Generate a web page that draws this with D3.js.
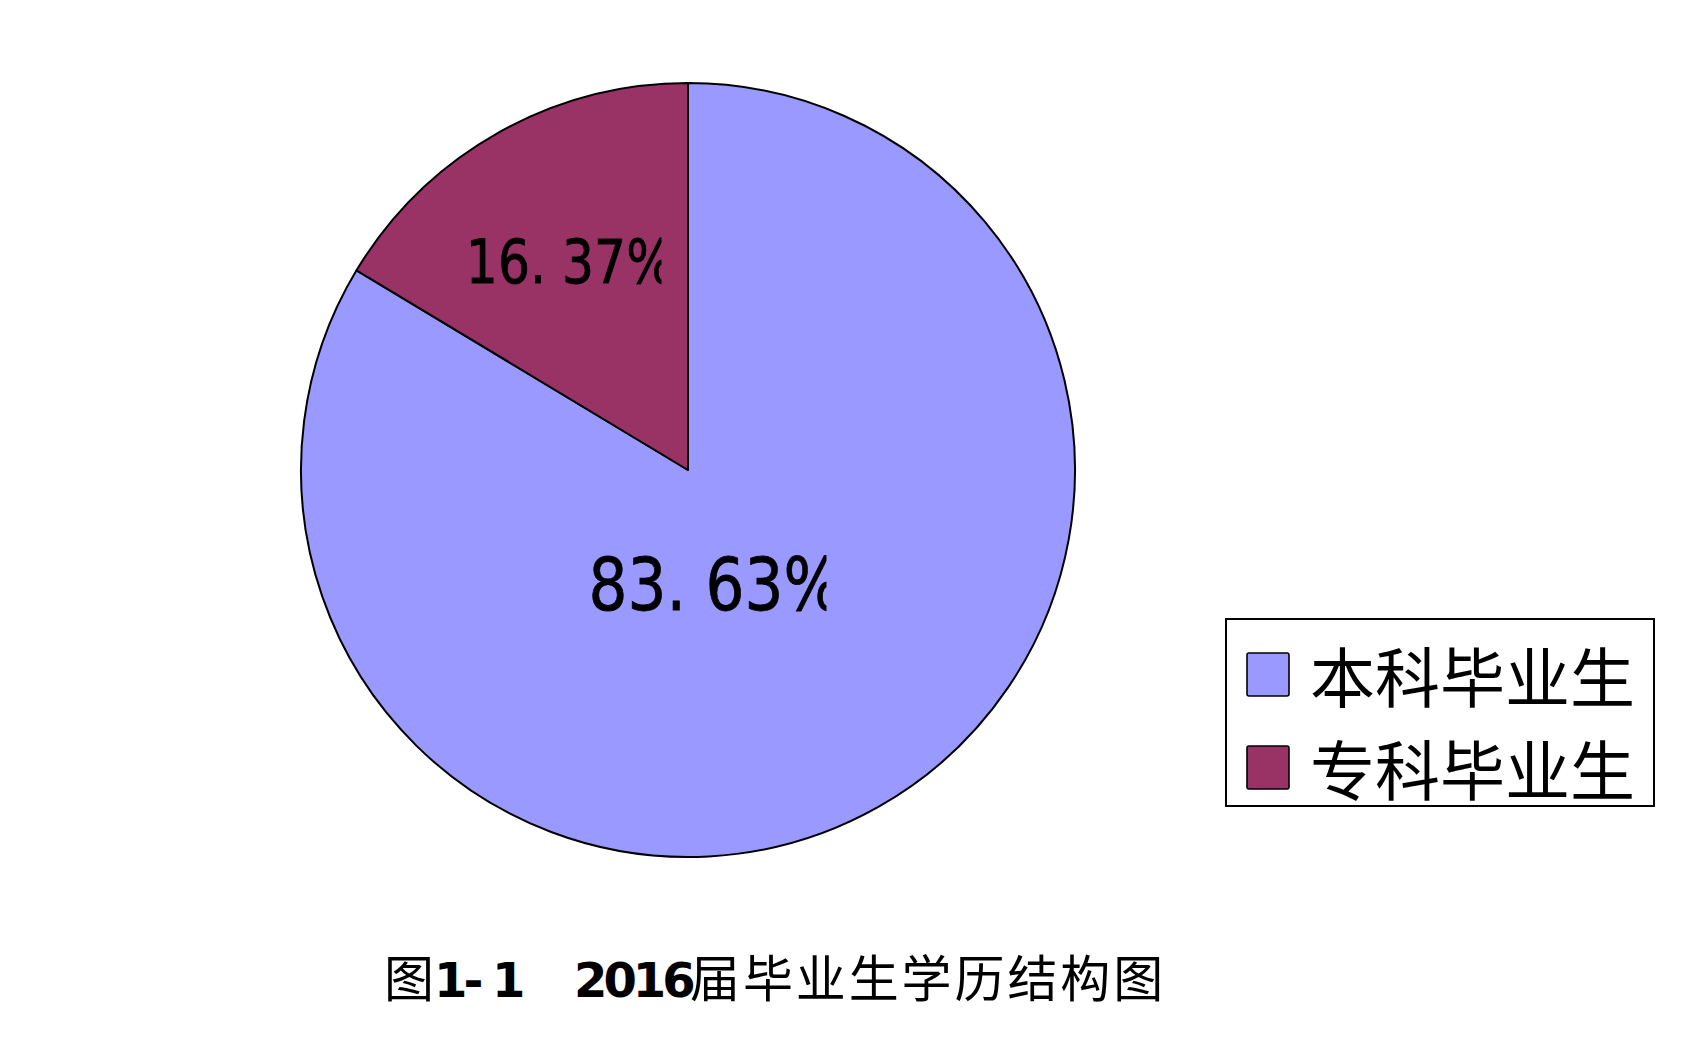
<!DOCTYPE html>
<html>
<head>
<meta charset="utf-8">
<script src="https://cdn.jsdelivr.net/npm/d3@7/dist/d3.min.js"></script>
<style>
  html, body { margin: 0; padding: 0; background: #fff; }
  svg { display: block; }
</style>
</head>
<body>
<svg id="chart" width="1683" height="1046"></svg>
<script>
// ---- data ----
const categories = ["本科毕业生", "专科毕业生"];
const values = [83.63, 16.37];
const valueLabels = ["83. 63%", "16. 37%"];
const colors = ["#9999FF", "#993366"];
const titleParts = ["图", "1- 1", "2016", "届毕业生学历结构图"];

// ---- layout ----
const W = 1683, H = 1046;
const cx = 688, cy = 470, R = 387;
const labelRadiusFactor = [0.30, 0.62];
const labelShift = [[-30, 12], [0, 0]];
const labelFont = [73, 60];
const labelScaleX = 0.84;

const svg = d3.select("#chart");
const defs = svg.append("defs");

const pie = d3.pie().sort(null).value(d => d);
const arcs = pie(values);
const arc = d3.arc().innerRadius(0).outerRadius(R);

const g = svg.append("g").attr("transform", `translate(${cx},${cy})`);

g.selectAll("path.slice")
  .data(arcs)
  .join("path")
  .attr("class", "slice")
  .attr("d", arc)
  .attr("fill", (d, i) => colors[i])
  .attr("stroke", "#000")
  .attr("stroke-width", 2)
  .attr("stroke-linejoin", "round");

// labels (clipped on the right like the original text boxes)
arcs.forEach((d, i) => {
  const fs = labelFont[i];
  const la = d3.arc().innerRadius(0).outerRadius(2 * R * labelRadiusFactor[i]);
  const [px, py] = la.centroid(d);
  const lx = cx + px + labelShift[i][0];
  const ly = cy + py + labelShift[i][1];

  const outer = svg.append("g");
  const inner = outer.append("g");
  const t = inner.append("text")
    .attr("x", 0).attr("y", 0)
    .attr("font-family", "'DejaVu Sans', sans-serif")
    .attr("font-size", fs)
    .attr("fill", "#000")
    .attr("stroke", "#000")
    .attr("stroke-width", 0.8)
    .text(valueLabels[i]);
  const full = t.node().getComputedTextLength() * labelScaleX;
  const startX = lx - full / 2;
  const baseY = ly + fs * 0.729 / 2;
  outer.attr("transform", `translate(${startX},${baseY})`);
  inner.attr("transform", `scale(${labelScaleX},1)`);
  const clipId = "lblclip" + i;
  defs.append("clipPath").attr("id", clipId)
    .append("rect")
    .attr("x", -10).attr("y", -fs)
    .attr("width", 10 + fs * 3.26)
    .attr("height", fs * 1.4);
  outer.attr("clip-path", `url(#${clipId})`);
});

// legend
const legX = 1226, legY = 619, legW = 428, legH = 187;
const lg = svg.append("g");
lg.append("rect")
  .attr("x", legX).attr("y", legY)
  .attr("width", legW).attr("height", legH)
  .attr("fill", "#fff").attr("stroke", "#000").attr("stroke-width", 2);

const rowY = d3.scalePoint().domain(categories).range([legY + 55, legY + 148]);
categories.forEach((c, i) => {
  const y = rowY(c);
  lg.append("rect")
    .attr("x", legX + 21).attr("y", y - 21)
    .attr("width", 42).attr("height", 43)
    .attr("rx", 2)
    .attr("fill", colors[i]).attr("stroke", "#000").attr("stroke-width", 1.6);
  lg.append("text")
    .attr("x", legX + 84).attr("y", y)
    .attr("dominant-baseline", "central")
    .attr("font-family", "'Noto Sans CJK SC', sans-serif")
    .attr("font-size", 65)
    .attr("fill", "#000")
    .text(c);
});

// title
const titleY = 997;
const title = svg.append("text")
  .attr("y", titleY)
  .attr("fill", "#000");
title.append("tspan")
  .attr("x", 384)
  .attr("font-family", "'Noto Sans CJK SC', sans-serif")
  .attr("font-size", 50)
  .text(titleParts[0]);
title.append("tspan")
  .attr("x", 434)
  .attr("font-family", "'DejaVu Sans', sans-serif")
  .attr("font-weight", "bold")
  .attr("font-size", 48)
  .attr("letter-spacing", -4)
  .text(titleParts[1]);
title.append("tspan")
  .attr("x", 574)
  .attr("font-family", "'DejaVu Sans', sans-serif")
  .attr("font-weight", "bold")
  .attr("font-size", 48)
  .attr("letter-spacing", -4)
  .text(titleParts[2]);
title.append("tspan")
  .attr("x", 690)
  .attr("font-family", "'Noto Sans CJK SC', sans-serif")
  .attr("font-size", 50)
  .attr("letter-spacing", 2.9)
  .text(titleParts[3]);
</script>
</body>
</html>
